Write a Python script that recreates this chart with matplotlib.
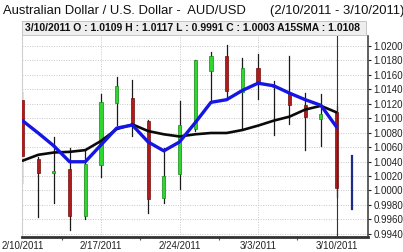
import matplotlib
matplotlib.use('Agg')
import matplotlib.pyplot as plt
from matplotlib.patches import Rectangle
from matplotlib.ticker import MultipleLocator, FormatStrFormatter

plt.rcParams['font.family'] = ['Liberation Sans', 'DejaVu Sans']

# Daily AUD/USD candles, 2/10/2011 - 3/10/2011 (trading days only)
dates = ['2/10/2011', '2/11/2011', '2/14/2011', '2/15/2011', '2/16/2011',
         '2/17/2011', '2/18/2011', '2/21/2011', '2/22/2011', '2/23/2011',
         '2/24/2011', '2/25/2011', '2/28/2011', '3/1/2011', '3/2/2011',
         '3/3/2011', '3/4/2011', '3/7/2011', '3/8/2011', '3/9/2011',
         '3/10/2011']
opens = [1.01256, 1.00434, 1.00240, 1.00297, 0.99644, 1.00352, 1.01210,
         1.01278, 1.00959, 0.99894, 1.00229, 1.00849, 1.01653, 1.01863,
         1.01360, 1.01689, 1.01430, 1.01342, 1.01188, 1.00989, 1.01090]
highs = [1.01356, 1.00460, 1.00740, 1.00585, 1.00558, 1.01333, 1.01575,
         1.01530, 1.00970, 1.00593, 1.01233, 1.01810, 1.01922, 1.02018,
         1.01826, 1.01890, 1.01520, 1.01859, 1.01342, 1.01338, 1.01170]
lows = [1.00110, 0.99626, 0.99826, 0.99452, 0.99600, 1.00182, 1.00900,
        1.00753, 0.99685, 0.99832, 1.00023, 1.00820, 1.01233, 1.01278,
        1.00867, 1.01264, 1.00763, 1.00922, 1.00558, 1.00612, 0.99910]
closes = [1.00479, 1.00242, 1.00270, 0.99644, 1.00366, 1.01223, 1.01452,
          1.00936, 0.99886, 1.00205, 1.00900, 1.01804, 1.01859, 1.01370,
          1.01689, 1.01484, 1.01430, 1.01188, 1.01010, 1.01064, 1.00030]

# 15 day SMA (black) and fast average (blue)
sma15 = [1.00411, 1.00493, 1.00525, 1.00534, 1.00558, 1.00685, 1.00849,
         1.00914, 1.00822, 1.00777, 1.00747, 1.00777, 1.00795, 1.00795,
         1.00836, 1.00897, 1.00966, 1.01021, 1.01119, 1.01171, 1.01080]
fast_ma = [1.00966, 1.00795, 1.00616, 1.00397, 1.00397, 1.00630, 1.00863,
           1.00904, 1.00671, 1.00548, 1.00671, 1.00938, 1.01219, 1.01256,
           1.01384, 1.01484, 1.01448, 1.01347, 1.01256, 1.01178, 1.00877]

# projected range bar drawn one slot after the last candle
range_pos = 21
range_top = 1.00479
range_bottom = 0.99747

label_every = 5

fig = plt.figure(figsize=(4.03, 2.52), dpi=100)
ax = fig.add_axes([22 / 403, 15 / 252, 346 / 403, 201 / 252])

# Candles
body_w = 0.2
for i in range(len(dates)):
    o, h, l, c = opens[i], highs[i], lows[i], closes[i]
    if c > o:
        face, edge = '#2fd62f', '#168a16'
    elif c < o:
        face, edge = '#b01a1a', '#6e0e0e'
    else:
        face, edge = '#111111', '#111111'
    ax.plot([i, i], [l, h], color='#1a1a1a', linewidth=0.9, zorder=2)
    height = max(abs(c - o), 0.00004)
    rect = Rectangle((i - body_w / 2, min(o, c)), body_w, height,
                     facecolor=face, edgecolor=edge, linewidth=0.5, zorder=3)
    ax.add_patch(rect)

# Moving averages
ax.plot(range(len(dates)), sma15, color='#0a0a0a', linewidth=1.9, zorder=4,
        solid_capstyle='round', solid_joinstyle='round')
ax.plot(range(len(dates)), fast_ma, color='#1515e6', linewidth=2.4, zorder=5,
        solid_capstyle='round', solid_joinstyle='round')

# range bar and cursor line
ax.plot([range_pos, range_pos], [range_bottom, range_top], color='#1c2c8a',
        linewidth=1.6, zorder=3)
ax.axvline(len(dates) - 1, color='#333333', linewidth=0.8, zorder=6)

ax.set_xlim(-0.03, 22.0)
ax.set_ylim(0.99356, 1.02137)

# axes styling
ax.yaxis.tick_right()
ax.yaxis.set_major_locator(MultipleLocator(0.002))
ax.yaxis.set_major_formatter(FormatStrFormatter('%.4f'))
ax.tick_params(axis='y', labelsize=7, length=2, pad=2, colors='#222222')

major = list(range(0, len(dates), label_every))
ax.set_xticks(major)
ax.set_xticklabels([dates[i] for i in major])
ax.set_xticks([m + label_every / 2 for m in major[:-1]], minor=True)
ax.tick_params(axis='x', which='major', labelsize=7, length=0, pad=3,
               colors='#222222')
ax.tick_params(axis='x', which='minor', length=2.5, width=0.8, color='#555555')

ax.grid(True, which='major', linestyle=(0, (1, 1.5)), color='#c8c8c8',
        linewidth=0.7, zorder=0)
ax.set_axisbelow(True)

ax.spines['top'].set_visible(False)
ax.spines['left'].set_color('#cfcfcf')
ax.spines['left'].set_linewidth(0.8)
ax.spines['bottom'].set_color('#333333')
ax.spines['bottom'].set_linewidth(2.0)
ax.spines['right'].set_color('#444444')
ax.spines['right'].set_linewidth(1.2)

# title and header box
fig.text(3 / 403, 1 - 11 / 252, 'Australian Dollar / U.S. Dollar -  AUD/USD',
         fontsize=9.35, va='center', ha='left', color='#111111')
fig.text(270 / 403, 1 - 11 / 252, '(2/10/2011 - 3/10/2011)',
         fontsize=9.35, va='center', ha='left', color='#111111')

box = Rectangle((22 / 403, 1 - 35 / 252), 344 / 403, 14 / 252,
                transform=fig.transFigure, facecolor='#eeeeee',
                edgecolor='#bdbdbd', linewidth=0.6, zorder=10)
fig.patches.append(box)
i = len(dates) - 1
header = (f'{dates[i]} O : {opens[i]:.4f} H : {highs[i]:.4f} '
          f'L : {lows[i]:.4f} C : {closes[i]:.4f} A15SMA : {sma15[i]:.4f}')
fig.text(25 / 403, 1 - 28 / 252, header, fontsize=7.45, fontweight='bold',
         va='center', ha='left', color='#111111', zorder=11)

plt.savefig('out.png', dpi=100)
plt.close()
